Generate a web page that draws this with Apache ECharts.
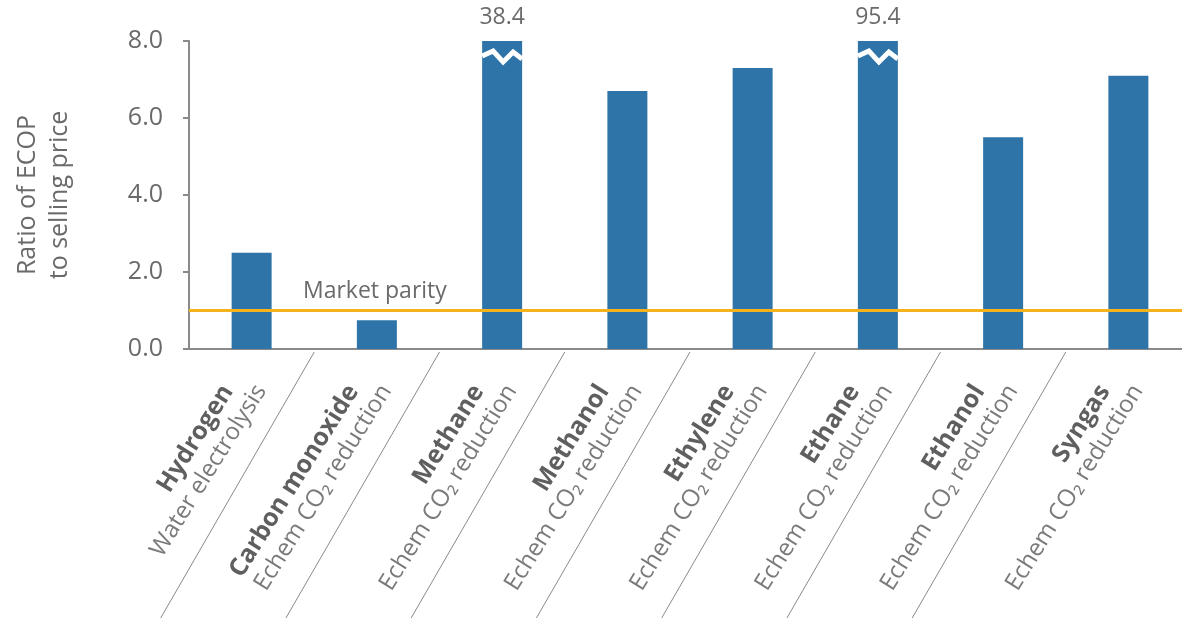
<!DOCTYPE html>
<html>
<head>
<meta charset="utf-8">
<script src="https://cdn.jsdelivr.net/npm/echarts@6/dist/echarts.min.js"></script>
<style>
  html, body { margin: 0; padding: 0; background: #ffffff; }
  #chart { width: 1182px; height: 618px; }
</style>
</head>
<body>
<div id="chart"></div>
<script>
// Products and the process that makes each one
const products = ['Hydrogen', 'Carbon monoxide', 'Methane', 'Methanol', 'Ethylene', 'Ethane', 'Ethanol', 'Syngas'];
const processes = ['Water electrolysis', 'Echem CO₂ reduction', 'Echem CO₂ reduction', 'Echem CO₂ reduction',
                   'Echem CO₂ reduction', 'Echem CO₂ reduction', 'Echem CO₂ reduction', 'Echem CO₂ reduction'];
// Ratio of ECOP to selling price
const ratios = [2.5, 0.75, 38.4, 6.7, 7.3, 95.4, 5.5, 7.1];
// Value axis
const yMin = 0;
const yMax = 8;
const yStep = 2;
const parity = 1.0;

const FONT = '"Open Sans", "Noto Sans", sans-serif';
const BAR_W = 40;

// bars that run past the top of the axis get a break mark and their value
const brokenBars = ratios.map((v, i) => [i, v]).filter(d => d[1] > yMax);
// one entry per gap between neighbouring categories
const separators = products.slice(1).map((_, i) => [i, 0]);

const chart = echarts.init(document.getElementById('chart'), null, { renderer: 'canvas' });

chart.setOption({
  animation: false,
  backgroundColor: '#ffffff',
  textStyle: { fontFamily: FONT },
  grid: { left: 189, top: 41, bottom: 269, width: 1002, containLabel: false, outerBoundsMode: 'none' },
  xAxis: {
    type: 'category',
    data: products,
    axisLine: { show: true, lineStyle: { color: '#8a8a8a', width: 2 } },
    axisTick: { show: false },
    axisLabel: {
      interval: 0,
      rotate: 58,
      margin: 32,
      padding: [0, 0, 6, 0],
      hideOverlap: false,
      fontFamily: FONT,
      formatter: (v, i) => '{t|' + products[i] + '}\n{s|' + processes[i] + '}',
      rich: {
        t: { fontFamily: FONT, fontWeight: 'bold', fontSize: 25, color: '#5f5f5f', lineHeight: 28, padding: [0, 18, 0, 0] },
        s: { fontFamily: FONT, fontSize: 24, color: '#7a7a7a', lineHeight: 28 }
      }
    }
  },
  yAxis: {
    type: 'value',
    min: yMin,
    max: yMax,
    interval: yStep,
    name: 'Ratio of ECOP\nto selling price',
    nameLocation: 'middle',
    nameRotate: 90,
    nameGap: 113,
    nameTextStyle: { fontFamily: FONT, fontSize: 25, color: '#6a6a6a', lineHeight: 32 },
    axisLine: { show: true, lineStyle: { color: '#8a8a8a', width: 2 } },
    axisTick: { show: true, inside: false, length: 6, lineStyle: { color: '#8a8a8a', width: 2 } },
    splitLine: { show: false },
    axisLabel: {
      margin: 26,
      fontFamily: FONT,
      fontSize: 25,
      color: '#6a6a6a',
      formatter: v => v.toFixed(1)
    }
  },
  series: [
    {
      type: 'bar',
      data: ratios,
      barWidth: BAR_W,
      clip: true,
      itemStyle: { color: '#2e74a8' },
      markLine: {
        silent: true,
        symbol: ['none', 'none'],
        lineStyle: { color: '#f6b21b', width: 3, type: 'solid' },
        label: {
          show: true,
          position: 'insideStartTop',
          distance: [114, 8],
          formatter: 'Market parity',
          fontFamily: FONT,
          fontSize: 23,
          color: '#6a6a6a'
        },
        data: [{ yAxis: parity }]
      },
      z: 2
    },
    {
      // break marks and true values for bars beyond the axis maximum
      type: 'custom',
      data: brokenBars,
      clip: false,
      z: 5,
      renderItem: (params, api) => {
        const top = api.coord([api.value(0), yMax]);
        const cx = top[0], ty = top[1];
        const h = BAR_W / 2;
        return {
          type: 'group',
          children: [
            {
              type: 'polyline',
              shape: { points: [[cx - h, ty + 15], [cx - 9, ty + 10], [cx + 1, ty + 21], [cx + 11, ty + 11], [cx + h, ty + 18]] },
              style: { stroke: '#ffffff', lineWidth: 5, fill: null, lineJoin: 'miter' }
            },
            {
              type: 'text',
              x: cx, y: ty - 24,
              style: {
                text: String(api.value(1)),
                fontFamily: FONT, fontSize: 23, fill: '#6a6a6a',
                align: 'center', verticalAlign: 'middle'
              }
            }
          ]
        };
      }
    },
    {
      // slanted divider lines between the category labels
      type: 'custom',
      data: separators,
      clip: false,
      silent: true,
      z: 1,
      renderItem: (params, api) => {
        const c = api.coord([api.value(0), 0]);
        const band = api.size([1, 0])[0];
        const x0 = c[0] + band / 2;
        const y0 = c[1] + 3;
        const y1 = 620;
        const dx = (y1 - y0) / Math.tan(60 * Math.PI / 180);
        return {
          type: 'line',
          shape: { x1: x0, y1: y0, x2: x0 - dx, y2: y1 },
          style: { stroke: '#8a8a8a', lineWidth: 1 }
        };
      }
    }
  ]
});
</script>
</body>
</html>
